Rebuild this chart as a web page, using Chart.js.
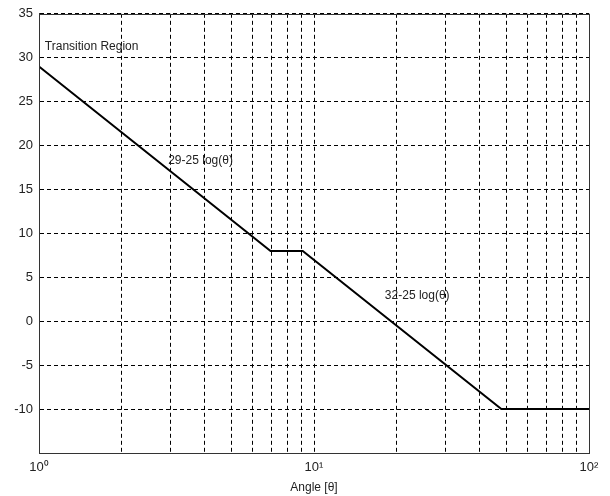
<!DOCTYPE html>
<html>
<head>
<meta charset="utf-8">
<script src="https://cdn.jsdelivr.net/npm/chart.js@4.4.1/dist/chart.umd.min.js"></script>
<style>
  html, body { margin: 0; padding: 0; background: #fff; }
  #wrap { width: 610px; height: 496px; position: relative; }
</style>
</head>
<body>
<div id="wrap"><canvas id="chart"></canvas></div>
<script>
// Kurvans brytpunkter (vinkel och nivå)
const angles = [1, 6.95, 9.1, 48, 100];
const levels = [29, 8, 8, -10, -10];

// Y-axelns steg
const yTicks = [-15, -10, -5, 0, 5, 10, 15, 20, 25, 30, 35];
// Rutnät på x-axeln (logaritmiskt)
const xGrid = [1, 2, 3, 4, 5, 6, 7, 8, 9, 10, 20, 30, 40, 50, 60, 70, 80, 90, 100];
const xLabels = { 1: "10\u2070", 10: "10\u00b9", 100: "10\u00b2" };

// Textetiketter i diagrammet
const notes = [
  { text: "Transition Region", x: 1.05, y: 31.2 },
  { text: "29-25 log(\u03b8)", x: 2.95, y: 18.3 },
  { text: "32-25 log(\u03b8)", x: 18.1, y: 2.9 },
];

const fontFam = '"Liberation Sans", Arial, sans-serif';

// Ritar ram runt plotytan och textetiketterna
const boxPlugin = {
  id: "box",
  afterDatasetsDraw(chart) {
    const { ctx, chartArea: a, scales } = chart;
    ctx.save();
    ctx.strokeStyle = "#333";
    ctx.lineWidth = 1;
    ctx.setLineDash([]);
    ctx.strokeRect(Math.round(a.left) + 0.5, Math.round(a.top) + 0.5,
      Math.round(a.right - a.left), Math.round(a.bottom - a.top));
    ctx.fillStyle = "#222";
    ctx.font = "12px " + fontFam;
    ctx.textBaseline = "middle";
    ctx.textAlign = "left";
    notes.forEach((n) => {
      ctx.fillText(n.text, scales.x.getPixelForValue(n.x), scales.y.getPixelForValue(n.y));
    });
    ctx.restore();
  },
};

new Chart(document.getElementById("chart"), {
  type: "line",
  data: {
    datasets: [
      {
        data: angles.map((a, i) => ({ x: a, y: levels[i] })),
        borderColor: "#000",
        borderWidth: 2,
        pointRadius: 0,
        tension: 0,
        fill: false,
      },
    ],
  },
  options: {
    responsive: true,
    maintainAspectRatio: false,
    animation: false,
    layout: { padding: { top: 13, right: 21, left: 0, bottom: 0 } },
    plugins: { legend: { display: false }, tooltip: { enabled: false } },
    scales: {
      x: {
        type: "logarithmic",
        min: 1,
        max: 100,
        afterBuildTicks: (scale) => {
          scale.ticks = xGrid.map((v) => ({ value: v }));
        },
        afterFit: (scale) => {
          scale.height = 43;
        },
        grid: { color: "#000", lineWidth: 1, drawTicks: false },
        border: { display: true, color: "#333", dash: [4, 3] },
        ticks: {
          autoSkip: false,
          maxRotation: 0,
          padding: 7,
          color: "#222",
          font: { family: fontFam, size: 13 },
          callback: (v) => xLabels[v] || "",
        },
        title: {
          display: true,
          text: "Angle [\u03b8]",
          color: "#222",
          font: { family: fontFam, size: 12 },
          padding: { top: 2, bottom: 1 },
        },
      },
      y: {
        type: "linear",
        min: -15,
        max: 35,
        afterBuildTicks: (scale) => {
          scale.ticks = yTicks.map((v) => ({ value: v }));
        },
        afterFit: (scale) => {
          scale.width = 39;
        },
        grid: { color: "#000", lineWidth: 1, drawTicks: false },
        border: { display: true, color: "#333", dash: [4, 3] },
        ticks: {
          padding: 6,
          color: "#222",
          font: { family: fontFam, size: 13 },
          callback: (v) => (v === -15 ? "" : String(v)),
        },
      },
    },
  },
  plugins: [boxPlugin],
});
</script>
</body>
</html>
